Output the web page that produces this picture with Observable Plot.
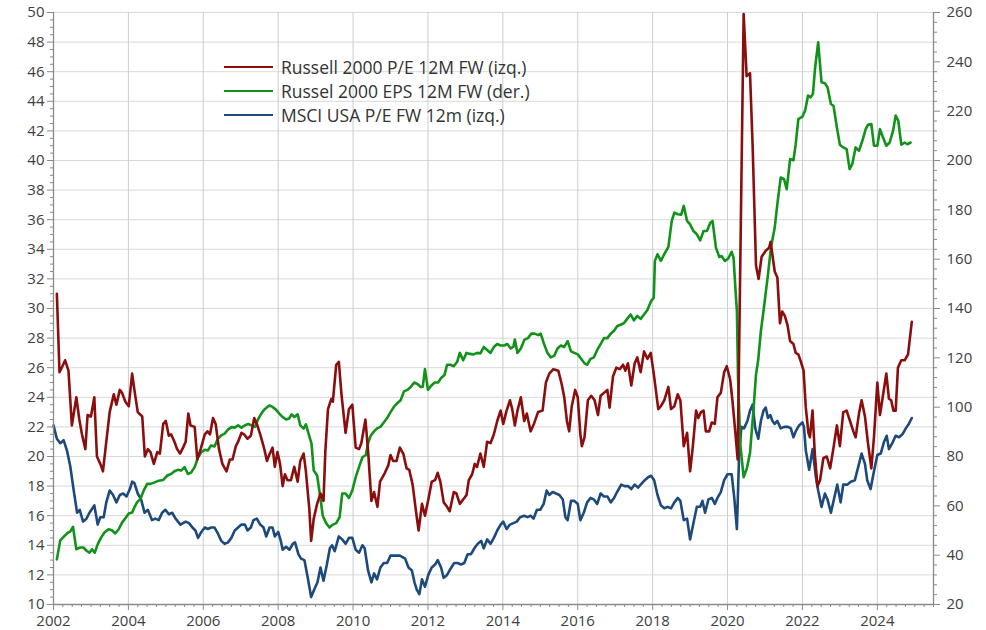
<!DOCTYPE html>
<html><head><meta charset="utf-8">
<script src="https://cdn.jsdelivr.net/npm/d3@7"></script>
<script src="https://cdn.jsdelivr.net/npm/@observablehq/plot@0.6"></script>
<style>
body{margin:0;background:#fff;font-family:"Open Sans",sans-serif;}
#wrap{position:relative;width:986px;height:630px;}
#legend{position:absolute;left:224px;top:55px;font-size:17.5px;color:#333;font-family:"Open Sans",sans-serif;}
.item{display:flex;align-items:center;height:24px;white-space:nowrap;}
.sw{width:49px;height:0;border-top:2.5px solid;margin-right:8px;}
</style></head><body>
<div id="wrap"><div id="legend"></div></div>
<script>
// Series names
const seriesNames = ["Russell 2000 P/E 12M FW (izq.)", "Russel 2000 EPS 12M FW (der.)", "MSCI USA P/E FW 12m (izq.)"];
const seriesColors = ["#8B0E0E", "#12921A", "#1D4A7A"];

// Russell 2000 P/E 12M FW (left axis): [decimal year, value]
const russellPE = [
[2002.09,31.0],[2002.16,25.7],[2002.22,26.0],[2002.31,26.5],[2002.40,25.8],[2002.49,22.1],[2002.61,24.0],[2002.69,22.5],[2002.76,21.5],[2002.85,20.5],[2002.91,22.8],[2003.00,22.7],[2003.09,24.0],[2003.16,20.0],[2003.25,19.5],[2003.32,19.0],[2003.41,21.0],[2003.50,23.0],[2003.61,24.2],[2003.68,23.5],[2003.77,24.5],[2003.83,24.3],[2003.92,23.7],
[2004.01,23.4],[2004.10,25.6],[2004.16,24.5],[2004.25,23.0],[2004.37,22.7],[2004.44,20.0],[2004.52,20.5],[2004.59,20.3],[2004.68,19.5],[2004.77,20.3],[2004.84,20.2],[2004.93,22.2],[2005.00,22.4],[2005.08,21.4],[2005.14,21.5],[2005.23,21.0],[2005.30,20.5],[2005.38,20.2],[2005.46,20.6],[2005.53,21.0],[2005.60,22.9],[2005.66,22.1],[2005.77,22.0],[2005.84,19.8],[2005.93,20.5],
[2006.04,21.5],[2006.11,21.7],[2006.18,21.5],[2006.26,22.6],[2006.33,22.2],[2006.42,20.5],[2006.51,19.5],[2006.62,19.0],[2006.71,19.8],[2006.78,19.8],[2006.87,20.7],[2006.93,21.0],[2007.02,21.6],[2007.09,21.5],[2007.18,21.2],[2007.27,21.4],[2007.36,22.6],[2007.43,22.2],[2007.52,21.5],[2007.63,20.5],[2007.70,19.7],[2007.76,20.1],[2007.85,20.6],[2007.91,19.3],[2007.98,20.3],
[2008.05,19.5],[2008.12,18.0],[2008.18,18.8],[2008.25,18.4],[2008.34,18.4],[2008.43,19.3],[2008.52,18.3],[2008.59,19.7],[2008.68,20.2],[2008.74,19.0],[2008.83,16.5],[2008.88,14.3],[2008.95,15.8],[2009.04,16.8],[2009.13,17.5],[2009.21,17.0],[2009.26,20.4],[2009.33,23.2],[2009.42,23.9],[2009.46,23.7],[2009.55,26.2],[2009.62,26.4],[2009.69,24.2],[2009.80,21.6],[2009.89,23.2],[2009.98,23.5],
[2010.07,20.6],[2010.16,20.5],[2010.22,20.9],[2010.33,22.5],[2010.40,20.4],[2010.49,17.0],[2010.56,17.6],[2010.65,16.6],[2010.72,18.3],[2010.85,18.9],[2010.94,19.4],[2011.00,20.1],[2011.07,19.7],[2011.16,19.7],[2011.25,20.6],[2011.34,20.2],[2011.43,19.2],[2011.50,19.1],[2011.59,18.1],[2011.68,16.3],[2011.75,15.0],[2011.84,16.8],[2011.92,16.0],
[2012.01,17.1],[2012.10,18.3],[2012.19,18.4],[2012.26,18.9],[2012.33,18.3],[2012.42,16.9],[2012.51,16.6],[2012.58,16.3],[2012.69,17.6],[2012.76,17.5],[2012.85,16.8],[2012.94,17.1],[2013.03,17.4],[2013.09,18.4],[2013.18,18.8],[2013.25,19.5],[2013.31,19.3],[2013.40,20.2],[2013.49,19.3],[2013.58,21.0],[2013.67,20.9],[2013.76,21.5],[2013.85,22.4],[2013.94,23.1],
[2014.01,22.2],[2014.10,23.1],[2014.19,23.8],[2014.25,23.2],[2014.32,22.1],[2014.39,23.1],[2014.48,24.0],[2014.57,22.4],[2014.64,22.9],[2014.74,21.7],[2014.83,22.2],[2014.94,23.0],[2015.06,23.1],[2015.15,25.0],[2015.24,25.6],[2015.35,25.9],[2015.48,25.8],[2015.57,24.9],[2015.64,24.0],[2015.71,22.4],[2015.77,21.7],[2015.84,23.4],[2015.93,24.5],
[2016.00,24.0],[2016.07,21.5],[2016.11,20.7],[2016.18,21.3],[2016.27,23.8],[2016.36,24.1],[2016.45,23.8],[2016.54,22.8],[2016.61,24.1],[2016.70,24.3],[2016.79,24.5],[2016.85,23.3],[2016.94,25.4],[2017.03,26.0],[2017.12,25.9],[2017.21,26.2],[2017.27,25.8],[2017.34,26.3],[2017.43,24.8],[2017.52,26.3],[2017.59,26.7],[2017.68,25.7],[2017.77,27.1],[2017.86,26.6],[2017.95,27.0],
[2018.04,25.4],[2018.15,23.2],[2018.22,23.4],[2018.31,23.8],[2018.42,24.7],[2018.49,23.2],[2018.58,23.4],[2018.67,24.2],[2018.74,23.8],[2018.83,20.7],[2018.92,21.6],[2019.00,19.0],[2019.07,20.6],[2019.16,23.1],[2019.22,22.6],[2019.29,23.0],[2019.36,23.1],[2019.42,21.7],[2019.51,21.7],[2019.58,22.3],[2019.66,22.2],[2019.73,24.0],[2019.82,24.3],[2019.91,25.7],[2019.98,26.1],
[2020.07,25.2],[2020.13,23.8],[2020.22,21.3],[2020.27,19.8],[2020.43,49.9],[2020.51,45.7],[2020.60,45.9],[2020.67,41.0],[2020.76,32.9],[2020.83,32.0],[2020.91,33.5],[2021.02,33.9],[2021.11,34.1],[2021.15,34.5],[2021.26,32.5],[2021.33,32.1],[2021.40,29.0],[2021.46,29.8],[2021.53,29.5],[2021.60,28.9],[2021.67,27.8],[2021.76,27.6],[2021.82,27.0],[2021.89,26.9],[2021.96,26.4],
[2022.03,25.8],[2022.09,23.3],[2022.16,21.6],[2022.20,21.3],[2022.27,23.1],[2022.33,20.2],[2022.40,18.0],[2022.47,18.4],[2022.56,19.9],[2022.65,20.0],[2022.74,19.2],[2022.83,20.6],[2022.92,22.1],[2023.00,20.7],[2023.09,23.0],[2023.18,23.1],[2023.27,22.4],[2023.36,21.7],[2023.42,21.3],[2023.51,22.9],[2023.58,23.8],[2023.67,22.7],[2023.75,20.9],[2023.84,19.2],[2023.91,21.3],
[2024.00,25.0],[2024.07,22.8],[2024.15,24.1],[2024.24,25.6],[2024.31,23.9],[2024.37,23.8],[2024.43,23.1],[2024.49,23.1],[2024.55,26.0],[2024.64,26.5],[2024.73,26.5],[2024.82,26.9],[2024.92,29.1]
];

// Russell 2000 EPS 12M FW (right axis): [decimal year, value]
const russellEPS = [
[2002.09,38.3],[2002.18,46.0],[2002.27,47.4],[2002.36,48.8],[2002.45,49.6],[2002.52,51.5],[2002.61,42.4],[2002.71,43.1],[2002.80,43.1],[2002.89,41.7],[2002.96,41.0],[2003.03,42.4],[2003.10,41.0],[2003.18,44.4],[2003.27,47.1],[2003.36,49.2],[2003.47,50.5],[2003.56,50.1],[2003.65,48.8],[2003.74,50.5],[2003.83,53.2],[2003.92,55.0],
[2004.01,56.9],[2004.10,57.3],[2004.16,59.4],[2004.23,61.4],[2004.32,62.8],[2004.41,66.2],[2004.50,68.9],[2004.59,68.9],[2004.70,69.5],[2004.81,70.2],[2004.93,70.5],[2005.04,72.3],[2005.14,72.9],[2005.23,74.0],[2005.32,74.6],[2005.41,74.3],[2005.50,75.7],[2005.59,72.9],[2005.68,73.6],[2005.77,75.7],[2005.86,79.7],[2005.95,81.8],
[2006.04,82.7],[2006.12,82.4],[2006.21,84.5],[2006.30,84.1],[2006.39,87.2],[2006.48,88.6],[2006.57,89.3],[2006.66,90.9],[2006.75,91.9],[2006.84,91.7],[2006.93,92.6],[2007.02,91.7],[2007.11,92.6],[2007.20,93.2],[2007.29,92.6],[2007.38,92.0],[2007.46,95.0],[2007.55,97.4],[2007.64,99.2],[2007.76,100.7],[2007.85,100.1],[2007.94,99.0],
[2008.03,97.4],[2008.12,96.0],[2008.21,95.0],[2008.29,95.4],[2008.36,97.1],[2008.43,96.0],[2008.52,97.1],[2008.59,92.6],[2008.68,91.3],[2008.74,93.0],[2008.80,89.9],[2008.89,85.2],[2008.95,74.3],[2009.04,72.3],[2009.12,64.0],[2009.19,56.0],[2009.28,53.0],[2009.37,51.2],[2009.46,52.4],[2009.55,53.0],[2009.64,55.4],[2009.71,65.0],[2009.80,65.0],[2009.89,63.2],[2009.98,66.2],
[2010.07,71.6],[2010.16,75.8],[2010.25,79.7],[2010.34,80.6],[2010.40,85.4],[2010.47,88.4],[2010.56,90.2],[2010.64,91.4],[2010.73,92.0],[2010.82,93.8],[2010.91,95.6],[2011.00,98.0],[2011.09,100.1],[2011.18,101.6],[2011.27,102.8],[2011.36,106.4],[2011.45,107.0],[2011.54,108.2],[2011.63,110.0],[2011.72,109.4],[2011.81,108.2],[2011.86,108.2],[2011.92,115.4],
[2012.00,107.0],[2012.09,108.8],[2012.18,110.0],[2012.27,110.0],[2012.35,111.8],[2012.44,113.0],[2012.51,117.2],[2012.60,117.2],[2012.69,116.6],[2012.78,118.4],[2012.85,122.0],[2012.94,119.0],[2013.03,122.0],[2013.12,121.6],[2013.22,121.4],[2013.31,122.0],[2013.40,121.8],[2013.49,124.4],[2013.58,123.2],[2013.67,122.0],[2013.76,124.4],[2013.85,125.6],[2013.94,125.0],
[2014.03,125.0],[2014.12,125.6],[2014.21,123.8],[2014.28,124.4],[2014.32,127.4],[2014.39,122.0],[2014.48,123.8],[2014.58,127.4],[2014.67,128.0],[2014.76,129.8],[2014.85,129.8],[2014.94,129.2],[2015.01,129.8],[2015.10,125.6],[2015.19,122.0],[2015.28,120.2],[2015.37,120.8],[2015.46,123.8],[2015.55,125.0],[2015.64,124.4],[2015.73,126.8],[2015.82,122.6],[2015.91,122.0],
[2016.00,121.4],[2016.09,119.6],[2016.18,117.8],[2016.25,117.2],[2016.34,119.6],[2016.43,120.2],[2016.52,123.2],[2016.61,125.6],[2016.70,128.0],[2016.79,128.0],[2016.88,129.8],[2016.97,131.0],[2017.05,132.8],[2017.14,133.4],[2017.23,134.0],[2017.32,135.8],[2017.41,137.6],[2017.50,135.2],[2017.59,137.0],[2017.68,135.8],[2017.77,137.6],[2017.86,139.4],[2017.96,143.0],
[2018.03,144.4],[2018.06,159.3],[2018.13,162.0],[2018.22,159.3],[2018.31,162.0],[2018.42,165.0],[2018.51,175.5],[2018.58,178.9],[2018.67,178.2],[2018.76,178.0],[2018.83,181.6],[2018.92,175.5],[2019.00,174.1],[2019.09,171.4],[2019.18,170.1],[2019.27,167.6],[2019.36,171.4],[2019.45,171.4],[2019.54,174.8],[2019.60,175.5],[2019.69,164.7],[2019.78,160.9],[2019.84,161.3],[2019.93,159.3],
[2020.02,160.3],[2020.11,163.0],[2020.16,160.6],[2020.22,145.7],[2020.25,138.9],[2020.28,111.9],[2020.34,84.9],[2020.43,71.6],[2020.52,75.4],[2020.60,81.5],[2020.69,98.4],[2020.76,113.2],[2020.82,119.3],[2020.89,130.8],[2020.96,138.9],[2021.02,146.4],[2021.08,153.8],[2021.16,164.7],[2021.26,172.8],[2021.33,182.3],[2021.42,193.1],[2021.51,192.4],[2021.58,188.4],[2021.67,200.6],[2021.76,200.1],[2021.82,206.6],[2021.89,216.8],
[2022.00,217.8],[2022.07,220.2],[2022.15,226.3],[2022.22,225.6],[2022.28,227.0],[2022.34,237.8],[2022.42,247.9],[2022.51,231.7],[2022.60,231.3],[2022.67,229.7],[2022.76,222.9],[2022.83,222.2],[2022.92,213.4],[2023.00,206.4],[2023.09,205.3],[2023.18,204.6],[2023.26,196.5],[2023.33,198.5],[2023.42,205.3],[2023.51,203.9],[2023.60,208.0],[2023.69,212.7],[2023.75,214.5],[2023.84,214.8],[2023.91,206.0],
[2024.00,206.0],[2024.07,212.7],[2024.15,209.4],[2024.24,206.0],[2024.33,207.3],[2024.42,212.1],[2024.49,218.2],[2024.56,216.1],[2024.64,206.4],[2024.73,207.3],[2024.80,206.6],[2024.89,207.3]
];

// MSCI USA P/E FW 12m (left axis): [decimal year, value]
const msciPE = [
[2002.00,22.1],[2002.09,21.2],[2002.18,20.9],[2002.27,21.1],[2002.36,20.4],[2002.45,19.3],[2002.54,17.7],[2002.63,16.2],[2002.70,16.4],[2002.79,15.6],[2002.88,15.8],[2002.96,16.2],[2003.09,16.7],[2003.18,15.4],[2003.25,15.9],[2003.34,15.9],[2003.41,16.9],[2003.50,17.7],[2003.59,17.4],[2003.68,16.9],[2003.77,17.4],[2003.86,17.5],[2003.95,17.3],
[2004.04,17.8],[2004.10,18.3],[2004.16,18.2],[2004.25,17.5],[2004.34,17.1],[2004.43,16.2],[2004.52,16.4],[2004.63,15.7],[2004.72,15.8],[2004.81,15.7],[2004.90,16.2],[2004.99,16.4],[2005.08,16.1],[2005.17,16.2],[2005.26,15.8],[2005.39,15.4],[2005.53,15.6],[2005.62,15.5],[2005.71,15.2],[2005.79,15.0],[2005.86,14.5],[2005.95,14.9],
[2006.04,15.2],[2006.12,15.1],[2006.21,15.2],[2006.30,15.2],[2006.39,14.8],[2006.48,14.3],[2006.57,14.1],[2006.66,14.2],[2006.75,14.5],[2006.84,15.0],[2006.93,15.2],[2007.02,15.4],[2007.11,15.4],[2007.18,15.0],[2007.27,15.2],[2007.34,15.7],[2007.43,15.8],[2007.52,15.4],[2007.61,15.2],[2007.68,14.6],[2007.77,15.2],[2007.85,15.2],[2007.91,14.6],
[2008.00,14.9],[2008.07,14.3],[2008.12,13.7],[2008.21,13.9],[2008.30,13.7],[2008.39,14.1],[2008.45,14.2],[2008.54,13.4],[2008.61,13.1],[2008.70,13.0],[2008.79,11.8],[2008.88,10.5],[2008.96,11.0],[2009.05,11.5],[2009.13,12.5],[2009.21,11.6],[2009.30,12.7],[2009.38,13.8],[2009.44,14.0],[2009.51,13.6],[2009.62,14.6],[2009.71,14.4],[2009.80,14.1],[2009.89,14.5],[2009.98,14.5],
[2010.07,13.7],[2010.16,13.5],[2010.25,14.0],[2010.31,13.8],[2010.40,12.3],[2010.49,11.5],[2010.56,12.1],[2010.64,11.7],[2010.73,12.5],[2010.82,12.8],[2010.91,12.8],[2011.00,13.3],[2011.12,13.3],[2011.25,13.3],[2011.39,13.1],[2011.48,12.5],[2011.57,12.3],[2011.64,11.5],[2011.70,11.0],[2011.77,10.7],[2011.84,11.7],[2011.92,11.2],
[2012.01,12.0],[2012.10,12.5],[2012.19,12.7],[2012.26,13.0],[2012.35,12.5],[2012.42,11.8],[2012.51,12.0],[2012.60,12.4],[2012.70,12.8],[2012.79,12.8],[2012.88,12.7],[2012.97,12.8],[2013.06,13.4],[2013.15,13.4],[2013.24,13.8],[2013.33,14.1],[2013.42,14.3],[2013.49,13.8],[2013.58,14.4],[2013.67,14.1],[2013.76,14.5],[2013.85,15.0],[2013.94,15.4],
[2014.01,15.6],[2014.10,15.1],[2014.19,15.4],[2014.28,15.5],[2014.37,15.6],[2014.46,15.9],[2014.57,16.0],[2014.66,15.9],[2014.74,16.0],[2014.82,15.8],[2014.91,16.4],[2015.00,16.4],[2015.09,16.8],[2015.17,17.7],[2015.24,17.4],[2015.33,17.6],[2015.42,17.5],[2015.51,17.4],[2015.60,17.1],[2015.67,15.9],[2015.73,15.7],[2015.82,17.0],[2015.91,17.0],
[2016.00,16.8],[2016.07,15.7],[2016.16,16.2],[2016.25,16.9],[2016.34,17.2],[2016.43,17.1],[2016.52,16.8],[2016.61,17.5],[2016.70,17.3],[2016.79,17.3],[2016.88,16.9],[2016.97,17.2],[2017.05,17.6],[2017.16,18.1],[2017.25,18.0],[2017.34,18.0],[2017.43,17.8],[2017.52,18.1],[2017.61,17.9],[2017.68,18.1],[2017.79,18.4],[2017.88,18.6],[2017.96,18.7],
[2018.04,18.4],[2018.13,17.4],[2018.22,16.7],[2018.31,16.5],[2018.40,16.6],[2018.49,16.5],[2018.58,16.9],[2018.67,17.2],[2018.74,17.0],[2018.83,15.7],[2018.92,15.8],[2019.00,14.4],[2019.09,15.5],[2019.18,16.6],[2019.27,16.6],[2019.33,17.0],[2019.40,16.2],[2019.49,17.1],[2019.58,17.2],[2019.66,16.8],[2019.73,17.2],[2019.82,17.6],[2019.91,18.4],
[2020.00,18.8],[2020.11,18.8],[2020.18,17.2],[2020.25,15.1],[2020.31,20.2],[2020.37,22.0],[2020.44,21.9],[2020.53,22.4],[2020.60,23.1],[2020.67,23.5],[2020.74,21.9],[2020.82,21.2],[2020.89,22.4],[2020.96,23.1],[2021.02,23.3],[2021.08,22.6],[2021.14,22.8],[2021.20,22.4],[2021.26,22.2],[2021.33,22.4],[2021.42,21.9],[2021.51,22.0],[2021.62,22.0],[2021.69,21.9],[2021.76,21.3],[2021.82,21.7],[2021.91,22.1],
[2022.00,22.3],[2022.04,22.0],[2022.09,20.4],[2022.18,19.1],[2022.27,20.5],[2022.36,18.6],[2022.42,17.7],[2022.51,16.6],[2022.60,17.5],[2022.67,17.1],[2022.76,16.2],[2022.84,17.1],[2022.93,18.1],[2023.02,16.9],[2023.09,18.1],[2023.20,18.1],[2023.29,18.3],[2023.40,18.4],[2023.49,19.3],[2023.58,20.2],[2023.67,19.5],[2023.73,18.4],[2023.82,17.8],[2023.91,19.0],
[2024.00,20.1],[2024.09,20.2],[2024.18,21.0],[2024.25,21.4],[2024.31,20.5],[2024.40,20.9],[2024.49,21.4],[2024.58,21.3],[2024.67,21.5],[2024.76,21.9],[2024.84,22.2],[2024.92,22.6]
];

// Axis ticks
const xDomain = [2002, 2025.5];
const xMajor = d3.range(2002, 2025, 2);
const xMinor = d3.range(2002, 2025.5001, 0.25).filter(v => Math.abs(((v - 2002) % 2)) > 1e-9);
const leftDomain = [10, 50];
const leftMajor = d3.range(10, 50.001, 2);
const leftMinor = d3.range(10, 50.001, 0.5).filter(v => v % 2 !== 0);
const rightDomain = [20, 260];
const rightMajor = d3.range(20, 260.001, 20);
const rightMinor = d3.range(20, 260.001, 4).filter(v => v % 20 !== 0);

// map right-axis values onto the left scale (linear relation between domains)
const r2l = r => leftDomain[0] + (r - rightDomain[0]) * (leftDomain[1] - leftDomain[0]) / (rightDomain[1] - rightDomain[0]);
const l2r = l => rightDomain[0] + (l - leftDomain[0]) * (rightDomain[1] - rightDomain[0]) / (leftDomain[1] - leftDomain[0]);

const axisColor = "#8a8a8a";
const textColor = "#404040";

const chart = Plot.plot({
  width: 986, height: 630,
  marginLeft: 53, marginRight: 53, marginTop: 12, marginBottom: 26,
  x: {domain: xDomain},
  y: {domain: leftDomain},
  style: {fontFamily: "'Open Sans', sans-serif", fontSize: "15px", color: textColor, background: "white", overflow: "visible"},
  marks: [
    Plot.gridY(leftMajor, {stroke: "#d9d9d9", strokeOpacity: 1, strokeWidth: 1}),
    Plot.gridX(xMajor.filter(d => d > 2002), {stroke: "#c9cece", strokeOpacity: 1, strokeWidth: 1}),
    Plot.line(msciPE, {x: d => d[0], y: d => d[1], stroke: seriesColors[2], strokeWidth: 2.6, strokeLinejoin: "round"}),
    Plot.line(russellEPS, {x: d => d[0], y: d => r2l(d[1]), stroke: seriesColors[1], strokeWidth: 2.6, strokeLinejoin: "round"}),
    Plot.line(russellPE, {x: d => d[0], y: d => d[1], stroke: seriesColors[0], strokeWidth: 2.6, strokeLinejoin: "round"}),
    Plot.ruleX([xDomain[0], xDomain[1]], {stroke: axisColor, strokeWidth: 1.3}),
    Plot.ruleY([leftDomain[0]], {stroke: axisColor, strokeWidth: 1.3}),
    Plot.axisY(leftMinor, {anchor: "left", tickSize: 3, tickFormat: () => "", stroke: axisColor, label: null}),
    Plot.axisY(leftMajor, {anchor: "left", tickSize: 6, tickPadding: 3, tickFormat: d => String(d), stroke: axisColor, fill: textColor, label: null}),
    Plot.axisY(rightMinor.map(r2l), {anchor: "right", tickSize: 3, tickFormat: () => "", stroke: axisColor, label: null}),
    Plot.axisY(rightMajor.map(r2l), {anchor: "right", tickSize: 6, tickPadding: 7, tickFormat: d => String(Math.round(l2r(d))), stroke: axisColor, fill: textColor, label: null}),
    Plot.axisX(xMinor, {anchor: "bottom", tickSize: 3, tickFormat: () => "", stroke: axisColor, label: null}),
    Plot.axisX(xMajor, {anchor: "bottom", tickSize: 6, tickPadding: 5, tickFormat: d => String(d), stroke: axisColor, fill: textColor, label: null})
  ]
});
const wrap = document.getElementById("wrap");
wrap.insertBefore(chart, wrap.firstChild);

const legend = document.getElementById("legend");
seriesNames.forEach((name, i) => {
  const item = document.createElement("div");
  item.className = "item";
  const sw = document.createElement("span");
  sw.className = "sw";
  sw.style.borderTopColor = seriesColors[i];
  const label = document.createElement("span");
  label.textContent = name;
  item.appendChild(sw); item.appendChild(label);
  legend.appendChild(item);
});
</script>
</body></html>
